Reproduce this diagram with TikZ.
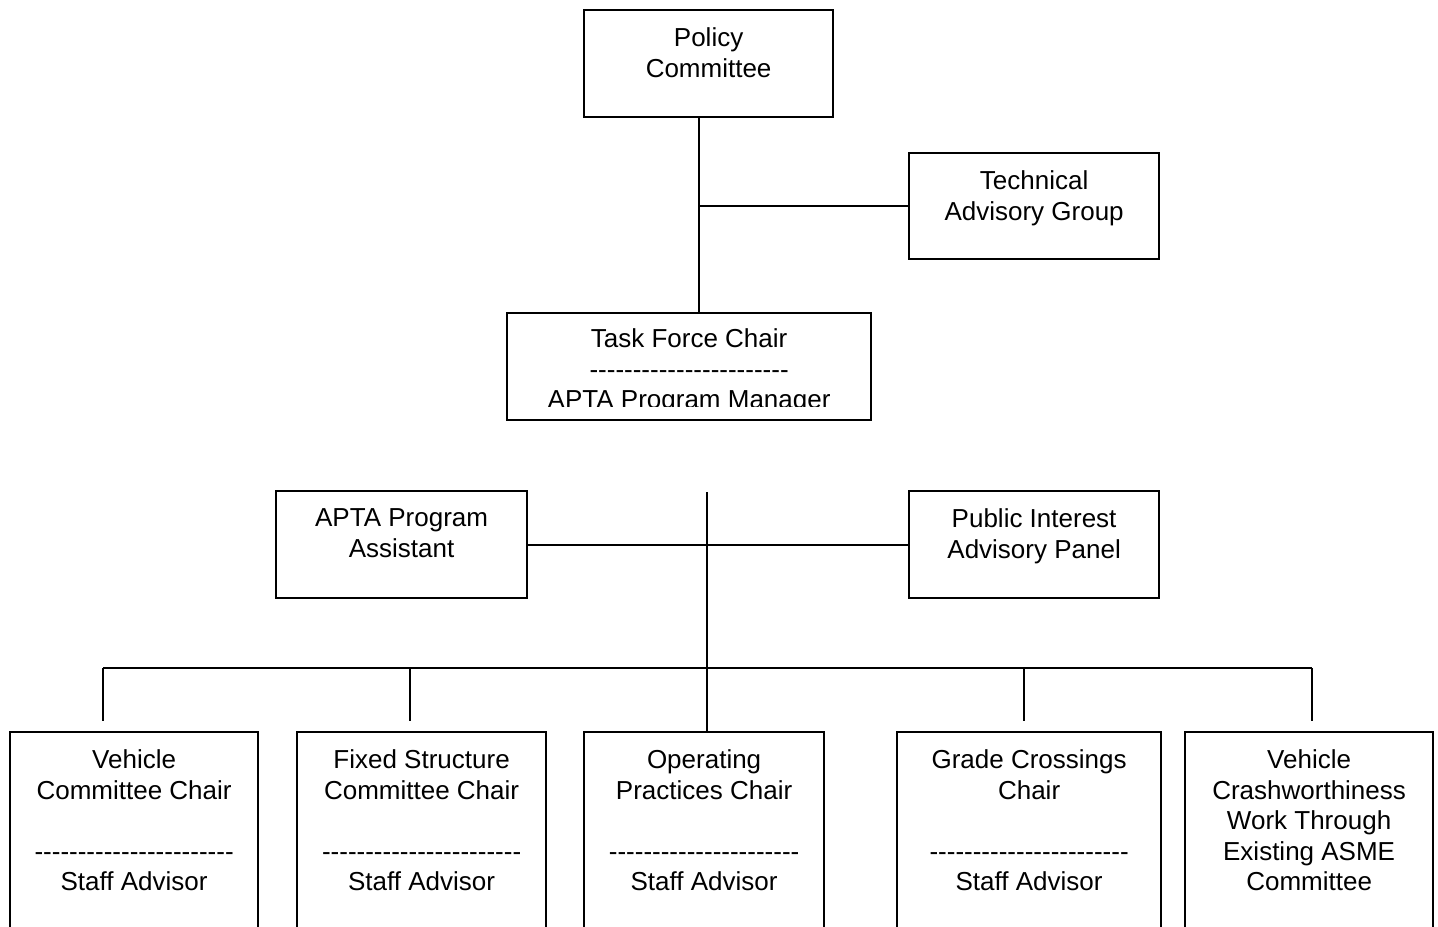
\documentclass[tikz,border=0pt]{standalone}
\usepackage{fontspec}
\setmainfont{Liberation Sans}
\usetikzlibrary{calc}

\newcommand{\dashrow}[1]{\foreach \k in {1,...,#1}{-\kern0pt}}

\tikzset{
    orgbox/.style 2 args={
        draw,
        line width=1.1pt,
        anchor=north west,
        inner sep=0pt,
        font=\fontsize{13pt}{15.25pt}\selectfont,
        execute at begin node={\begin{minipage}[t][#2][t]{#1}\centering\vspace*{9pt}},
        execute at end node={\end{minipage}}
    },
    link/.style={
        draw,
        line width=1.1pt
    },
}

\begin{document}
\begin{tikzpicture}[x=0.5pt, y=-0.5pt]
    \path[use as bounding box, clip] (0,0) rectangle (1438,926);

    % upper part
    \node[orgbox={124.5pt}{53.5pt}] (policy) at (583,9) {Policy\\Committee};
    \node[orgbox={125pt}{53pt}] (advgroup) at (908,152) {Technical\\Advisory Group};
    \node[orgbox={182pt}{53.5pt}] (taskforce) at (506,312) {\mbox{}};
    \begin{scope}
        \clip (taskforce.north west) rectangle ([yshift=7.5pt]taskforce.south east);
        \node[orgbox={182pt}{53.5pt}, draw=none, yshift=1pt] (taskforcetext) at (taskforce.north west)
            {Task Force Chair\\\dashrow{23}\\APTA Program Manager};
    \end{scope}

    % middle part
    \node[orgbox={125.5pt}{53.5pt}] (assistant) at (275,490) {APTA Program\\Assistant};
    \node[orgbox={125pt}{53.5pt}] (panel) at (908,490) {Public Interest\\Advisory Panel};

    % committees
    \node[orgbox={124pt}{125pt}] (vehicle) at (9,731) {Vehicle\\Committee Chair\\~\\\dashrow{23}\\Staff Advisor};
    \node[orgbox={124.5pt}{125pt}] (fixed) at (296,731) {Fixed Structure\\Committee Chair\\~\\\dashrow{23}\\Staff Advisor};
    \node[orgbox={120pt}{125pt}] (operating) at (583,731) {Operating\\Practices Chair\\~\\\dashrow{22}\\Staff Advisor};
    \node[orgbox={132pt}{125pt}] (grade) at (896,731) {Grade Crossings\\Chair\\~\\\dashrow{23}\\Staff Advisor};
    \node[orgbox={124pt}{125pt}] (crash) at (1184,731) {Vehicle\\Crashworthiness\\Work Through\\Existing ASME\\Committee};

    % connectors
    \coordinate (upper) at ($(policy.south)!0.5!(taskforce.north)$);
    \draw[link] (policy.south -| upper) -- (taskforce.north -| upper);
    \draw[link] (advgroup.west -| upper) -- (advgroup.west);

    \coordinate (trunk) at (707,492);
    \draw[link] (trunk) -- (trunk |- operating.north);
    \draw[link] (assistant.east) -- (panel.west);

    \coordinate (d1) at (103,668);
    \coordinate (d2) at (410,668);
    \coordinate (d4) at (1024,668);
    \coordinate (d5) at (1312,668);
    \draw[link] (d1) -- (d5);
    \foreach \d/\b in {d1/vehicle, d2/fixed, d4/grade, d5/crash}
        \draw[link, shorten >=5pt] (\d) -- (\d |- \b.north);
\end{tikzpicture}
\end{document}
